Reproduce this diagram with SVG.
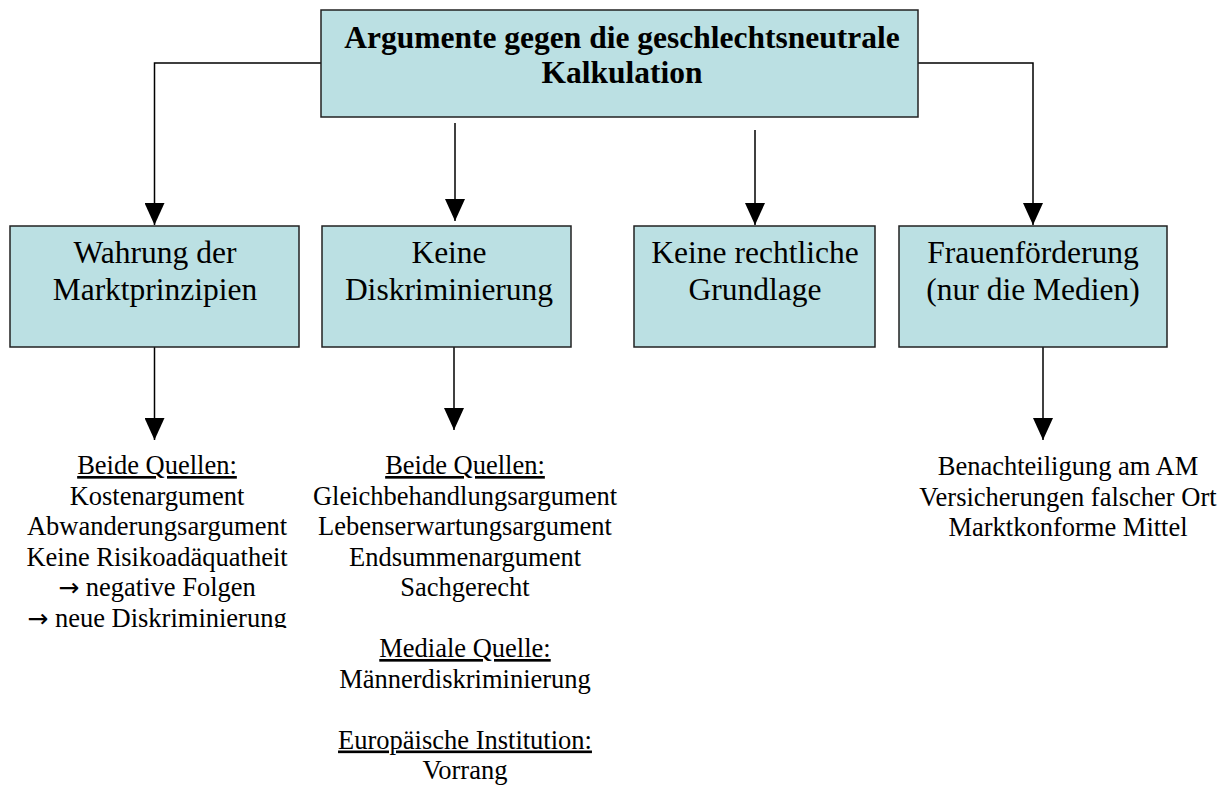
<svg xmlns="http://www.w3.org/2000/svg" width="1231" height="785" viewBox="0 0 1231 785">
<style>
.box{fill:#BBE0E3;stroke:#222;stroke-width:1.5}
.t{font-family:"Liberation Serif","Times New Roman",serif;fill:#000;text-anchor:middle}
.h{font-size:31.5px;font-weight:bold}
.m{font-size:31.5px}
.s{font-size:26.5px}
.u{text-decoration:underline}
.ar{font-family:"DejaVu Sans",sans-serif;font-size:25px}
.c{fill:none;stroke:#000;stroke-width:1.5}
</style>
<defs>
<marker id="ah" markerUnits="userSpaceOnUse" viewBox="0 0 22 20" refX="22" refY="10" markerWidth="22" markerHeight="20" orient="auto">
<path d="M0,0 L22,10 L0,20 Z" fill="#000"/>
</marker>
<clipPath id="clip1"><rect x="0" y="440" width="320" height="188"/></clipPath>
</defs>
<g id="connectors">
<path class="c" d="M321,63 H154.5 V225" marker-end="url(#ah)"/>
<path class="c" d="M455,123 V221" marker-end="url(#ah)"/>
<path class="c" d="M755,130 V225" marker-end="url(#ah)"/>
<path class="c" d="M918,63 H1033 V225" marker-end="url(#ah)"/>
<path class="c" d="M154.5,347 V440" marker-end="url(#ah)"/>
<path class="c" d="M454,336 V430" marker-end="url(#ah)"/>
<path class="c" d="M1043,347 V440" marker-end="url(#ah)"/>
</g>
<g id="root">
<rect class="box" x="321" y="10" width="597" height="107"/>
<text class="t h" x="622" y="48">Argumente gegen die geschlechtsneutrale</text>
<text class="t h" x="622" y="83">Kalkulation</text>
</g>
<g id="markt">
<rect class="box" x="10" y="226" width="289" height="121"/>
<text class="t m" x="155" y="263">Wahrung der</text>
<text class="t m" x="155" y="300">Marktprinzipien</text>
</g>
<g id="diskr">
<rect class="box" x="322" y="226" width="249" height="121"/>
<text class="t m" x="449" y="263">Keine</text>
<text class="t m" x="449" y="300">Diskriminierung</text>
</g>
<g id="recht">
<rect class="box" x="634" y="226" width="241" height="121"/>
<text class="t m" x="755" y="263">Keine rechtliche</text>
<text class="t m" x="755" y="300">Grundlage</text>
</g>
<g id="frauen">
<rect class="box" x="899" y="226" width="268" height="121"/>
<text class="t m" x="1033" y="263">Frauenförderung</text>
<text class="t m" x="1033" y="300">(nur die Medien)</text>
</g>
<g id="list1" clip-path="url(#clip1)">
<text class="t s u" x="157" y="474">Beide Quellen:</text>
<text class="t s" x="157" y="504.5">Kostenargument</text>
<text class="t s" x="157" y="535">Abwanderungsargument</text>
<text class="t s" x="157" y="565.5">Keine Risikoadäquatheit</text>
<text class="t s" x="157" y="596"><tspan class="ar">→</tspan> negative Folgen</text>
<text class="t s" x="157" y="626.5"><tspan class="ar">→</tspan> neue Diskriminierung</text>
</g>
<g id="list2">
<text class="t s u" x="465" y="474">Beide Quellen:</text>
<text class="t s" x="465" y="504.5">Gleichbehandlungsargument</text>
<text class="t s" x="465" y="535">Lebenserwartungsargument</text>
<text class="t s" x="465" y="565.5">Endsummenargument</text>
<text class="t s" x="465" y="596">Sachgerecht</text>
<text class="t s u" x="465" y="657">Mediale Quelle:</text>
<text class="t s" x="465" y="687.5">Männerdiskriminierung</text>
<text class="t s u" x="465" y="748.5">Europäische Institution:</text>
<text class="t s" x="465" y="779">Vorrang</text>
</g>
<g id="list4">
<text class="t s" x="1068" y="475">Benachteiligung am AM</text>
<text class="t s" x="1068" y="505.5">Versicherungen falscher Ort</text>
<text class="t s" x="1068" y="536">Marktkonforme Mittel</text>
</g>
</svg>
